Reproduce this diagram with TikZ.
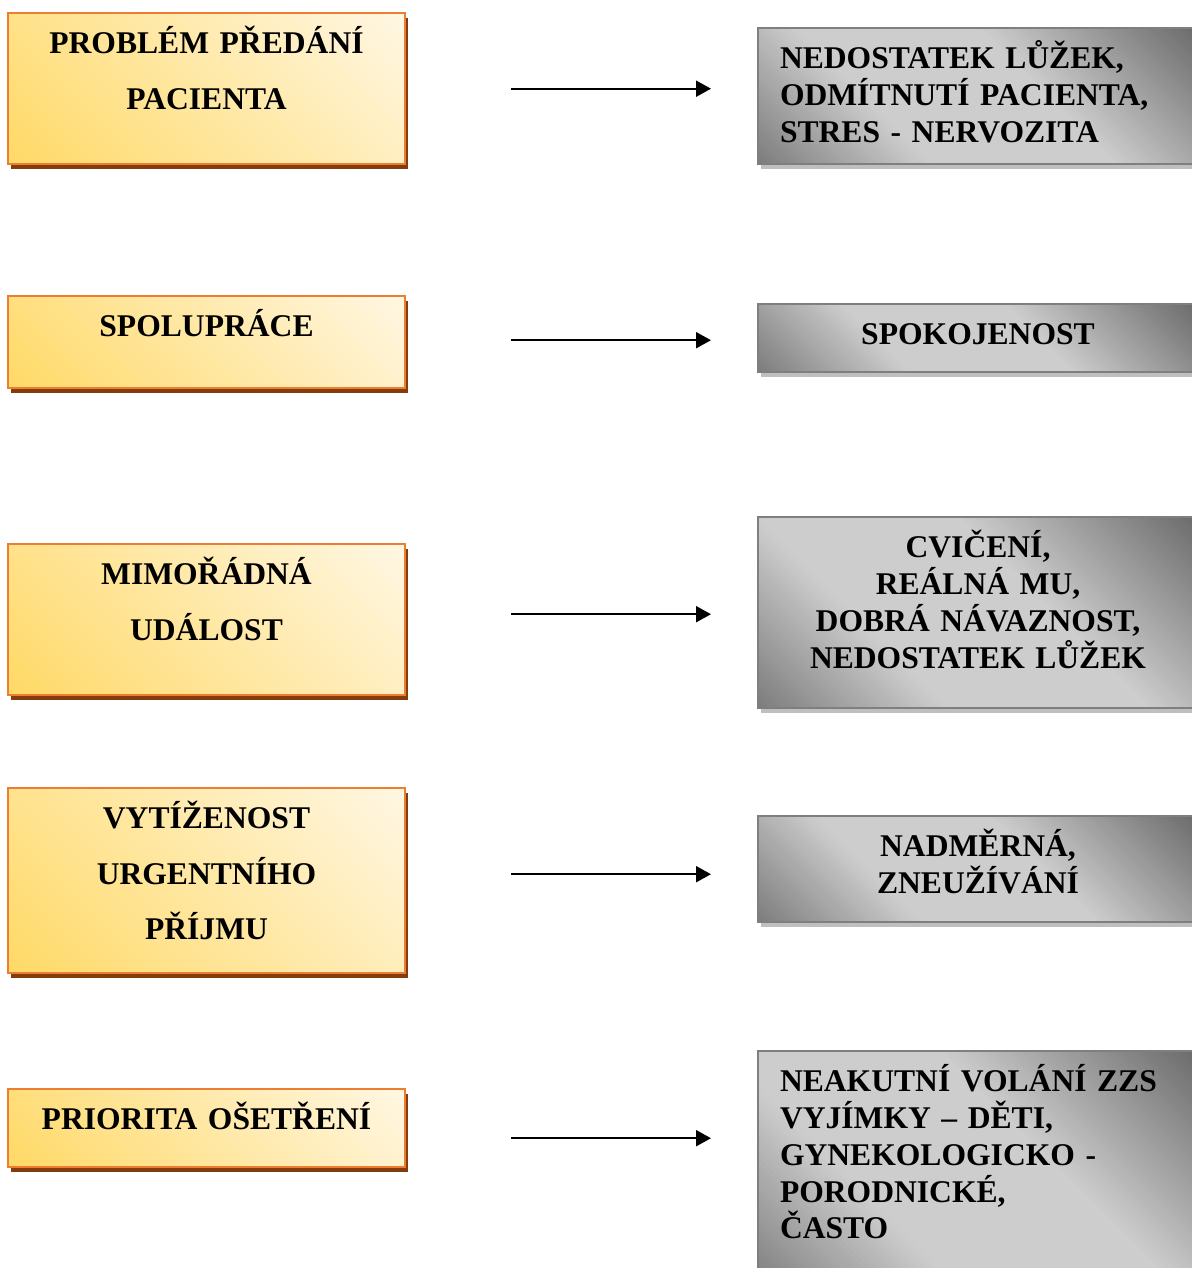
\documentclass[tikz,border=0pt]{standalone}
\usepackage{fontspec}
\setmainfont{Liberation Serif}
\usetikzlibrary{arrows.meta, shadows, calc}
\definecolor{ygold}{HTML}{FFD966}
\definecolor{ycream}{HTML}{FFF7E4}
\definecolor{yline}{HTML}{ED7D31}
\definecolor{yshadow}{HTML}{843C0C}
\definecolor{gdark}{HTML}{6A6A6A}
\definecolor{gmid}{HTML}{7C7C7C}
\definecolor{glight}{HTML}{CDCDCD}
\definecolor{gline}{HTML}{7F7F7F}
\definecolor{gshadow}{HTML}{BFBFBF}

\begin{document}
\begin{tikzpicture}[x=0.5pt, y=-0.5pt,
    % #1 = box height in pt
    cause/.style={draw=yline, line width=1.2pt,
        drop shadow={shadow xshift=1.5pt, shadow yshift=-2.5pt, fill=yshadow, opacity=1},
        path picture={
            \foreach \k in {0,...,95}{
                \pgfmathsetmacro\c{\k/96*(198.5+#1)}
                \pgfmathsetmacro\p{100*(\k+0.5)/96}
                \fill[ycream!\p!ygold] ($(path picture bounding box.south west)+(\c pt+20pt,-20pt)$)
                    -- ++(600pt,0pt) -- ++(0pt,520pt) -- ++(-1120pt,0pt) -- cycle;
            }},
        anchor=north, text width=180.5pt, align=center, inner xsep=9pt, inner ysep=9.3pt,
        text height=11pt, text depth={#1-29.6pt}, font=\fontsize{15.8}{27.75}\selectfont\bfseries},
    effect/.style={draw=gline, line width=1pt,
        drop shadow={shadow xshift=1.5pt, shadow yshift=-2.5pt, fill=gshadow, opacity=1},
        path picture={
            \foreach \k in {0,...,95}{
                \pgfmathsetmacro\c{\k/96*(220+#1)}
                \pgfmathsetmacro\f{(\k+0.5)/96}
                \pgfmathsetmacro\p{min(100,100*\f/0.3)}
                \pgfmathsetmacro\q{min(100,100*(1-\f)/0.38)}
                \ifdim\f pt<0.5pt \colorlet{stripe}{glight!\p!gmid}\else\colorlet{stripe}{glight!\q!gdark}\fi
                \fill[stripe] ($(path picture bounding box.south west)+(\c pt+20pt,-20pt)$)
                    -- ++(600pt,0pt) -- ++(0pt,520pt) -- ++(-1120pt,0pt) -- cycle;
            }},
        anchor=north, text width=198pt, inner xsep=11pt, inner ysep=9.3pt,
        text height=11pt, text depth={#1-29.6pt}, font=\fontsize{15.8}{18.4}\selectfont\bfseries},
    link/.style={-{Triangle[length=7.5pt, width=8pt]}, line width=1pt, shorten <=52.5pt, shorten >=23pt}]

    \clip (0,0) rectangle (1192,1268);

    % Causes
    \node[cause=75.5] (p1) at (206.5, 12) {PROBLÉM PŘEDÁNÍ\\PACIENTA};
    \node[cause=46] (p2) at (206.5, 295) {SPOLUPRÁCE};
    \node[cause=75.5] (p3) at (206.5, 543) {MIMOŘÁDNÁ\\UDÁLOST};
    \node[cause=92.5] (p4) at (206.5, 787) {VYTÍŽENOST\\URGENTNÍHO\\PŘÍJMU};
    \node[cause=39] (p5) at (206.5, 1088) {PRIORITA OŠETŘENÍ};

    % Effects
    \node[effect=68, align=left] (g1) at (978, 27) {NEDOSTATEK LŮŽEK,\\ODMÍTNUTÍ PACIENTA,\\STRES - NERVOZITA};
    \node[effect=34, align=center] (g2) at (978, 303) {SPOKOJENOST};
    \node[effect=95.5, align=center] (g3) at (978, 516) {CVIČENÍ,\\REÁLNÁ MU,\\DOBRÁ NÁVAZNOST,\\NEDOSTATEK LŮŽEK};
    \node[effect=53, align=center] (g4) at (978, 815) {NADMĚRNÁ,\\ZNEUŽÍVÁNÍ};
    \node[effect=120, align=left] (g5) at (978, 1050) {NEAKUTNÍ VOLÁNÍ ZZS\\VYJÍMKY – DĚTI,\\GYNEKOLOGICKO -\\PORODNICKÉ,\\ČASTO};

    % Links
    \draw[link] (p1.east) -- (p1.east -| g1.west);
    \draw[link] ([yshift=1pt]p2.east) -- ([yshift=1pt]p2.east -| g2.west);
    \draw[link] ([yshift=2.75pt]p3.east) -- ([yshift=2.75pt]p3.east -| g3.west);
    \draw[link] ([yshift=3.25pt]p4.east) -- ([yshift=3.25pt]p4.east -| g4.west);
    \draw[link] ([yshift=-5pt]p5.east) -- ([yshift=-5pt]p5.east -| g5.west);
\end{tikzpicture}
\end{document}
